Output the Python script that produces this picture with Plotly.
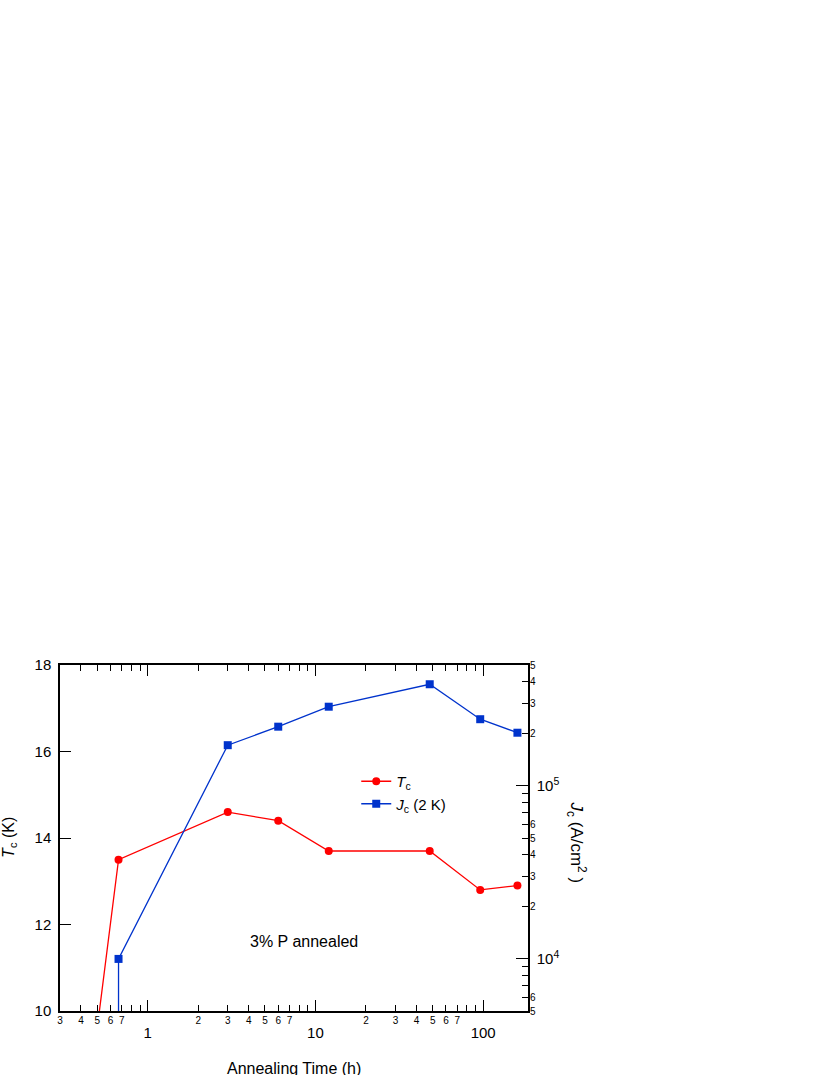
import math
import plotly.graph_objects as go

# ── data ──────────────────────────────────────────────────────────────────────
tc_time_h = [0.5, 0.67, 3, 6, 12, 48, 96, 160]
tc_k = [9.6, 13.5, 14.6, 14.4, 13.7, 13.7, 12.8, 12.9]

jc_time_h = [0.67, 0.67, 3, 6, 12, 48, 96, 160]
jc_a_cm2 = [2.0e3, 1.0e4, 1.72e5, 2.2e5, 2.87e5, 3.87e5, 2.43e5, 2.03e5]

# tick labels
x_major = [1, 10, 100]
x_minor_lab = [0.3, 0.4, 0.5, 0.6, 0.7, 2, 3, 4, 5, 6, 7, 20, 30, 40, 50, 60, 70]
x_minor_tick = [0.3, 0.4, 0.5, 0.6, 0.7, 0.8, 0.9,
                2, 3, 4, 5, 6, 7, 8, 9,
                20, 30, 40, 50, 60, 70, 80, 90]
jc_major = [1e4, 1e5]
jc_minor_lab = [5e3, 6e3, 2e4, 3e4, 4e4, 5e4, 6e4, 2e5, 3e5, 4e5, 5e5]
jc_minor_tick = [6e3, 7e3, 8e3, 9e3,
                 2e4, 3e4, 4e4, 5e4, 6e4, 7e4, 8e4, 9e4,
                 2e5, 3e5, 4e5]

X_RANGE = [math.log10(0.3), math.log10(185)]
JC_RANGE = [math.log10(5e3), math.log10(5e5)]

RED = "#ff0000"
BLUE = "#0033cc"
FONT = "Liberation Sans, Arial, sans-serif"


def lead_digit(v):
    # first significant digit of a tick value, e.g. 0.3 -> "3", 4e5 -> "4"
    return f"{v:.0e}"[0]


fig = go.Figure()

fig.add_trace(go.Scatter(
    x=tc_time_h, y=tc_k,
    mode="lines+markers",
    line=dict(color=RED, width=1.3),
    marker=dict(color=RED, size=8, symbol="circle"),
    name="<i>T</i><sub>c</sub>",
    xaxis="x", yaxis="y",
))

fig.add_trace(go.Scatter(
    x=jc_time_h, y=jc_a_cm2,
    mode="lines+markers",
    line=dict(color=BLUE, width=1.3),
    marker=dict(color=BLUE, size=8, symbol="square"),
    name="<i>J</i><sub>c</sub> (2 K)",
    xaxis="x", yaxis="y2",
))

# empty traces so the overlay axes carrying the small minor labels get drawn
fig.add_trace(go.Scatter(x=tc_time_h, y=tc_k, xaxis="x2", yaxis="y",
                         mode="none", showlegend=False, hoverinfo="skip"))
fig.add_trace(go.Scatter(x=jc_time_h, y=jc_a_cm2, xaxis="x", yaxis="y3",
                         mode="none", showlegend=False, hoverinfo="skip"))

axis_common = dict(showgrid=False, zeroline=False, linecolor="black",
                   tickcolor="black", tickwidth=1.2)
minor_common = dict(ticks="inside", ticklen=6, tickcolor="black",
                    tickwidth=1.2, showgrid=False)

fig.update_layout(
    width=830, height=1075,
    paper_bgcolor="white", plot_bgcolor="white",
    font=dict(family=FONT, color="black", size=15),
    margin=dict(l=60, r=302, t=665, b=64),
    showlegend=True,
    legend=dict(x=0.633, y=0.711, xanchor="left", yanchor="top",
                bgcolor="rgba(0,0,0,0)", font=dict(size=15),
                itemwidth=30, tracegroupgap=0),
    xaxis=dict(
        type="log", range=X_RANGE, showline=True, linewidth=1.5,
        mirror="ticks", ticks="inside", ticklen=11,
        tickvals=x_major, ticktext=[str(v) for v in x_major],
        tickfont=dict(size=15), ticklabelstandoff=7,
        minor=dict(tickvals=x_minor_tick, **minor_common),
        **axis_common,
    ),
    xaxis2=dict(
        type="log", range=X_RANGE, overlaying="x", anchor="y", side="bottom",
        showline=False, ticks="", showgrid=False, zeroline=False,
        tickvals=x_minor_lab, ticktext=[lead_digit(v) for v in x_minor_lab],
        tickfont=dict(size=10), ticklabelstandoff=2,
    ),
    yaxis=dict(
        range=[10, 18], dtick=2, tick0=10, showline=True, linewidth=1.5,
        ticks="inside", ticklen=11, tickfont=dict(size=15),
        ticklabelstandoff=4,
        **axis_common,
    ),
    yaxis2=dict(
        type="log", range=JC_RANGE, overlaying="y", anchor="x", side="right",
        showline=True, linewidth=1.5, ticks="inside", ticklen=12,
        tickvals=jc_major, ticktext=["10<sup>4</sup>", "10<sup>5</sup>"],
        tickfont=dict(size=15), ticklabelstandoff=4,
        minor=dict(tickvals=jc_minor_tick, **minor_common),
        **axis_common,
    ),
    yaxis3=dict(
        type="log", range=JC_RANGE, overlaying="y", anchor="x", side="right",
        showline=False, ticks="", showgrid=False, zeroline=False,
        tickvals=jc_minor_lab, ticktext=[lead_digit(v) for v in jc_minor_lab],
        tickfont=dict(size=10), ticklabelstandoff=1,
    ),
    annotations=[
        dict(text="3% P annealed", x=0.521, y=0.202, xref="paper", yref="paper",
             xanchor="center", yanchor="middle", showarrow=False,
             font=dict(size=16)),
        dict(text="<i>T</i><sub>c</sub> (K)", x=-0.107, y=0.503,
             xref="paper", yref="paper", xanchor="center", yanchor="middle",
             textangle=-90, showarrow=False, font=dict(size=16)),
        dict(text="<i>J</i><sub>c</sub> (A/cm<sup>2</sup> )", x=1.104, y=0.488,
             xref="paper", yref="paper", xanchor="center", yanchor="middle",
             textangle=90, showarrow=False, font=dict(size=17)),
        dict(text="Annealing Time (h)", x=0.5, y=-0.167, xref="paper",
             yref="paper", xanchor="center", yanchor="middle", showarrow=False,
             font=dict(size=16)),
    ],
)

# drop the page's default body margin so the figure sits at the window corner
fig.write_html("out.html", config={"displayModeBar": False},
               post_script="document.body.style.margin = '0';")
